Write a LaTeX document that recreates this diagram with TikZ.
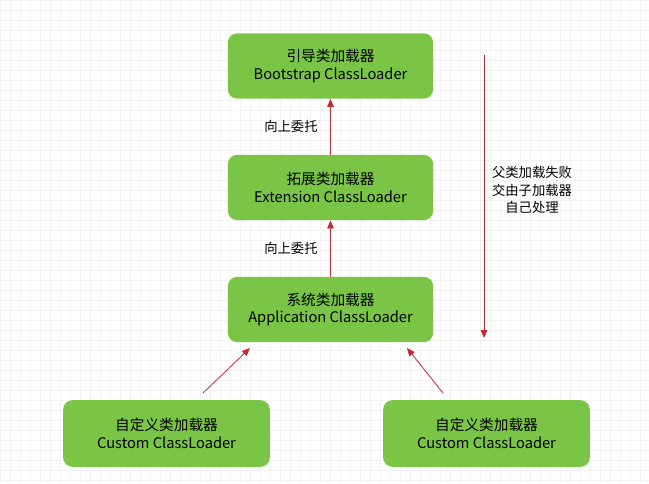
\documentclass[tikz,border=0pt]{standalone}
\usepackage{fontspec}
\setmainfont{Noto Sans CJK SC}
\usetikzlibrary{arrows.meta}
\definecolor{loadergreen}{RGB}{122,197,69}
\definecolor{arrowred}{RGB}{200,40,50}
\tikzset{
  loader/.style={fill=loadergreen, rounded corners=7pt, minimum width=154pt, minimum height=49pt, align=center, font=\fontsize{11}{13}\selectfont, inner sep=0pt},
  deleg/.style={draw=arrowred, -{Triangle[length=6pt,width=5pt]}, line width=0.6pt},
  note/.style={font=\fontsize{10}{13}\selectfont, align=center}
}
\begin{document}
\begin{tikzpicture}[x=0.75pt,y=-0.75pt]
	\useasboundingbox (0,0) rectangle (649,483);
	\fill[white] (0,0) rectangle (649,483);
	% faint grid
	\foreach \x in {0,10,...,640} \draw[black!5, line width=0.3pt] (\x,0) -- (\x,483);
	\foreach \y in {0,10,...,480} \draw[black!5, line width=0.3pt] (0,\y) -- (649,\y);

	\node[loader] (boot) at (330.5,66) {引导类加载器\\Bootstrap ClassLoader};
	\node[loader] (ext) at (330.5,187.5) {拓展类加载器\\Extension ClassLoader};
	\node[loader] (app) at (330.5,309.5) {系统类加载器\\Application ClassLoader};
	\node[loader, minimum width=155pt, minimum height=50pt] (cus1) at (166.5,433.5) {自定义类加载器\\Custom ClassLoader};
	\node[loader, minimum width=155pt, minimum height=50pt] (cus2) at (486.5,433.5) {自定义类加载器\\Custom ClassLoader};

	\draw[deleg] (ext) -- (boot) node[midway, left=6pt, note] {向上委托};
	\draw[deleg] (app) -- (ext) node[midway, left=6pt, note] {向上委托};
	\draw[deleg] (203,393) -- (250,348);
	\draw[deleg] (443,393) -- (407,348);

	\coordinate (top) at (484,55);
	\coordinate (bot) at (484,338);
	\draw[deleg] (top) -- (bot);
	\node[note] (fail) at (532,190) {父类加载失败\\交由子加载器\\自己处理};
\end{tikzpicture}
\end{document}
